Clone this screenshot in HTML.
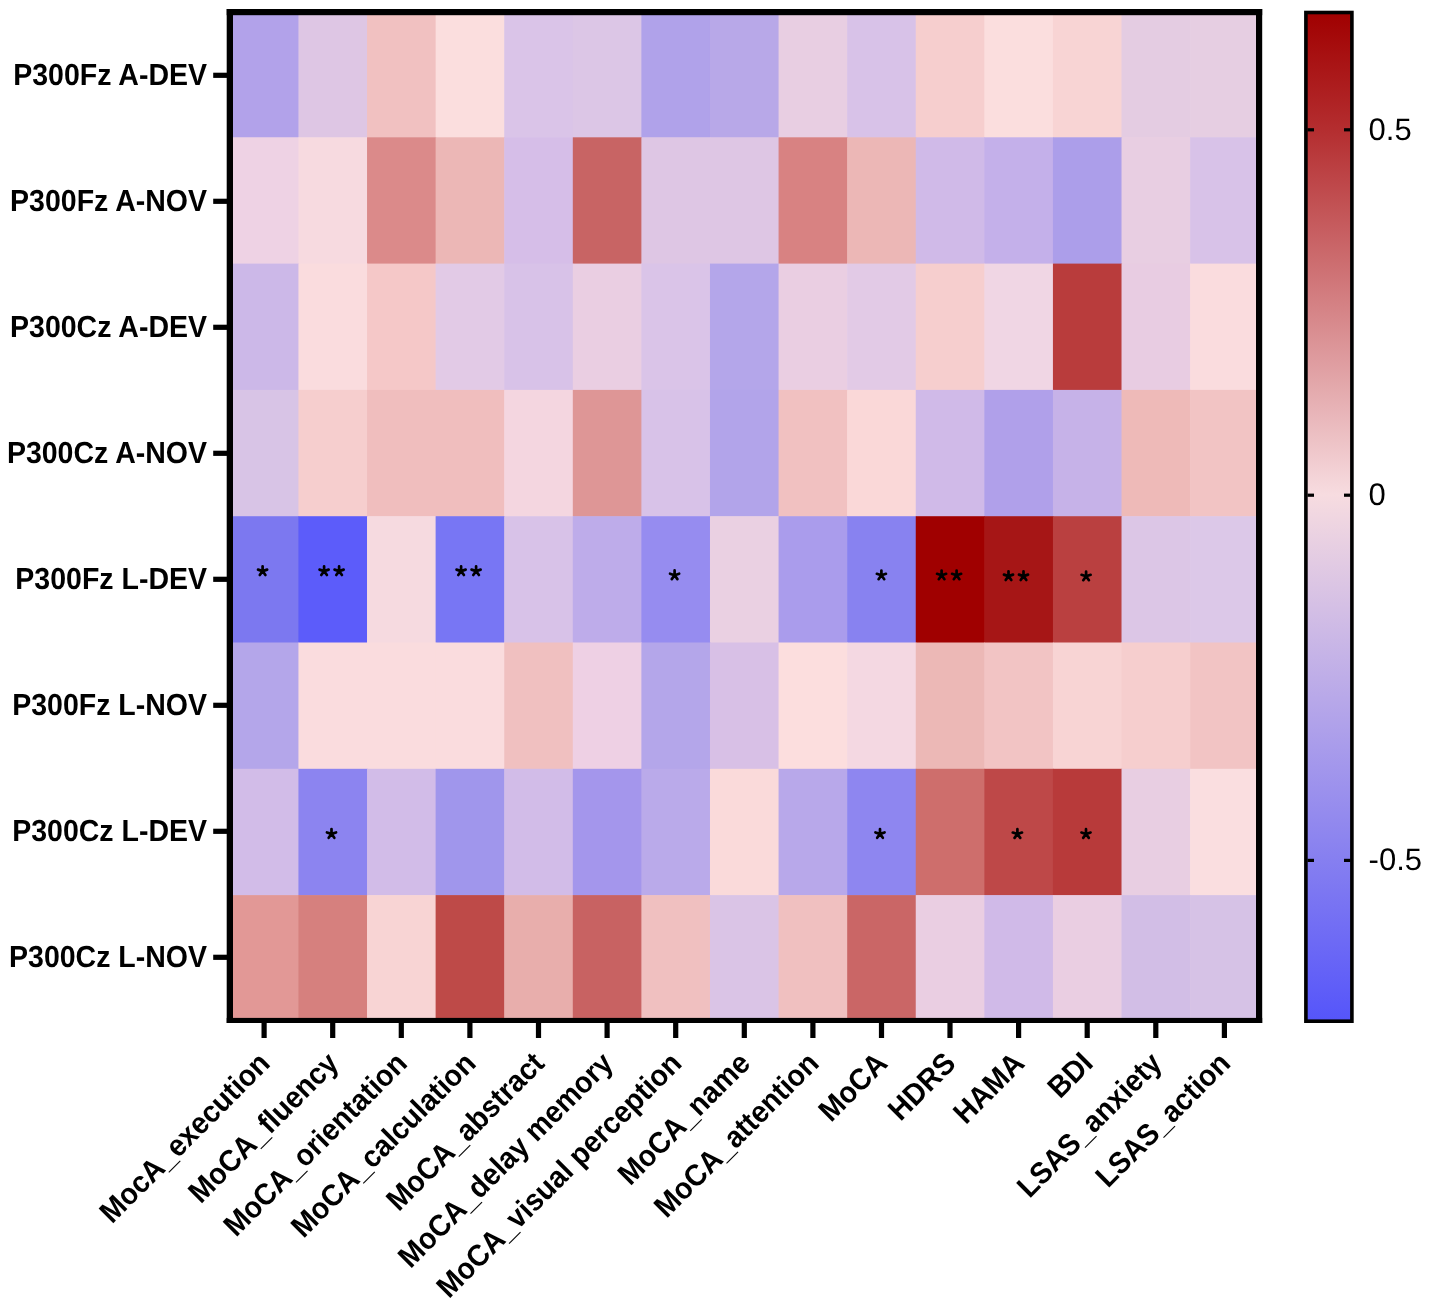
<!DOCTYPE html><html><head><meta charset="utf-8"><style>html,body{margin:0;padding:0;background:#fff;}svg{display:block;will-change:transform;}text{font-family:"Liberation Sans",sans-serif;text-rendering:geometricPrecision;}</style></head><body>
<svg width="1429" height="1307" viewBox="0 0 1429 1307">
<rect x="0" y="0" width="1429" height="1307" fill="#fff"/>
<rect x="229.85" y="11.00" width="69.19" height="126.90" fill="#B2A2EA"/>
<rect x="298.44" y="11.00" width="69.19" height="126.90" fill="#DEC6E4"/>
<rect x="367.03" y="11.00" width="69.19" height="126.90" fill="#F1C1C1"/>
<rect x="435.62" y="11.00" width="69.19" height="126.90" fill="#FBDEDE"/>
<rect x="504.21" y="11.00" width="69.19" height="126.90" fill="#DAC4E8"/>
<rect x="572.80" y="11.00" width="69.19" height="126.90" fill="#DCC6E6"/>
<rect x="641.39" y="11.00" width="69.19" height="126.90" fill="#B0A2EA"/>
<rect x="709.98" y="11.00" width="69.19" height="126.90" fill="#B8A8E8"/>
<rect x="778.57" y="11.00" width="69.19" height="126.90" fill="#E8CEE2"/>
<rect x="847.16" y="11.00" width="69.19" height="126.90" fill="#D8C2E8"/>
<rect x="915.75" y="11.00" width="69.19" height="126.90" fill="#F6CECE"/>
<rect x="984.34" y="11.00" width="69.19" height="126.90" fill="#FBDEDE"/>
<rect x="1052.93" y="11.00" width="69.19" height="126.90" fill="#F8D4D4"/>
<rect x="1121.52" y="11.00" width="69.19" height="126.90" fill="#E4CCE2"/>
<rect x="1190.11" y="11.00" width="69.19" height="126.90" fill="#E6CEE2"/>
<rect x="229.85" y="137.30" width="69.19" height="126.90" fill="#EED2E4"/>
<rect x="298.44" y="137.30" width="69.19" height="126.90" fill="#F7DAE0"/>
<rect x="367.03" y="137.30" width="69.19" height="126.90" fill="#DB8A8A"/>
<rect x="435.62" y="137.30" width="69.19" height="126.90" fill="#ECB7B6"/>
<rect x="504.21" y="137.30" width="69.19" height="126.90" fill="#D6BEE8"/>
<rect x="572.80" y="137.30" width="69.19" height="126.90" fill="#C86464"/>
<rect x="641.39" y="137.30" width="69.19" height="126.90" fill="#DEC6E4"/>
<rect x="709.98" y="137.30" width="69.19" height="126.90" fill="#DEC6E4"/>
<rect x="778.57" y="137.30" width="69.19" height="126.90" fill="#D88282"/>
<rect x="847.16" y="137.30" width="69.19" height="126.90" fill="#ECB7B6"/>
<rect x="915.75" y="137.30" width="69.19" height="126.90" fill="#D0BAE8"/>
<rect x="984.34" y="137.30" width="69.19" height="126.90" fill="#C4B0EA"/>
<rect x="1052.93" y="137.30" width="69.19" height="126.90" fill="#AC9EEA"/>
<rect x="1121.52" y="137.30" width="69.19" height="126.90" fill="#E8CEE2"/>
<rect x="1190.11" y="137.30" width="69.19" height="126.90" fill="#D8C2E8"/>
<rect x="229.85" y="263.60" width="69.19" height="126.90" fill="#CCB8E8"/>
<rect x="298.44" y="263.60" width="69.19" height="126.90" fill="#FADCDE"/>
<rect x="367.03" y="263.60" width="69.19" height="126.90" fill="#F5C8C8"/>
<rect x="435.62" y="263.60" width="69.19" height="126.90" fill="#E2CAE6"/>
<rect x="504.21" y="263.60" width="69.19" height="126.90" fill="#D8C2E8"/>
<rect x="572.80" y="263.60" width="69.19" height="126.90" fill="#EACEE2"/>
<rect x="641.39" y="263.60" width="69.19" height="126.90" fill="#DAC4E8"/>
<rect x="709.98" y="263.60" width="69.19" height="126.90" fill="#B4A6EA"/>
<rect x="778.57" y="263.60" width="69.19" height="126.90" fill="#EACEE2"/>
<rect x="847.16" y="263.60" width="69.19" height="126.90" fill="#E2CAE6"/>
<rect x="915.75" y="263.60" width="69.19" height="126.90" fill="#F6CECE"/>
<rect x="984.34" y="263.60" width="69.19" height="126.90" fill="#F0D6E4"/>
<rect x="1052.93" y="263.60" width="69.19" height="126.90" fill="#B93C3C"/>
<rect x="1121.52" y="263.60" width="69.19" height="126.90" fill="#E8CCE2"/>
<rect x="1190.11" y="263.60" width="69.19" height="126.90" fill="#FADCDE"/>
<rect x="229.85" y="389.90" width="69.19" height="126.90" fill="#D8C4E6"/>
<rect x="298.44" y="389.90" width="69.19" height="126.90" fill="#F6CECE"/>
<rect x="367.03" y="389.90" width="69.19" height="126.90" fill="#F0BEBE"/>
<rect x="435.62" y="389.90" width="69.19" height="126.90" fill="#F0BEBE"/>
<rect x="504.21" y="389.90" width="69.19" height="126.90" fill="#F4D6E0"/>
<rect x="572.80" y="389.90" width="69.19" height="126.90" fill="#DE9696"/>
<rect x="641.39" y="389.90" width="69.19" height="126.90" fill="#D8C2E8"/>
<rect x="709.98" y="389.90" width="69.19" height="126.90" fill="#B2A4EA"/>
<rect x="778.57" y="389.90" width="69.19" height="126.90" fill="#F1C1C1"/>
<rect x="847.16" y="389.90" width="69.19" height="126.90" fill="#FAD8D8"/>
<rect x="915.75" y="389.90" width="69.19" height="126.90" fill="#D0BAE8"/>
<rect x="984.34" y="389.90" width="69.19" height="126.90" fill="#B0A0EA"/>
<rect x="1052.93" y="389.90" width="69.19" height="126.90" fill="#C6B2E8"/>
<rect x="1121.52" y="389.90" width="69.19" height="126.90" fill="#EEBAB8"/>
<rect x="1190.11" y="389.90" width="69.19" height="126.90" fill="#F2C4C4"/>
<rect x="229.85" y="516.20" width="69.19" height="126.90" fill="#7C78F0"/>
<rect x="298.44" y="516.20" width="69.19" height="126.90" fill="#5C5CFA"/>
<rect x="367.03" y="516.20" width="69.19" height="126.90" fill="#F6DAE0"/>
<rect x="435.62" y="516.20" width="69.19" height="126.90" fill="#7876F4"/>
<rect x="504.21" y="516.20" width="69.19" height="126.90" fill="#D8C2E8"/>
<rect x="572.80" y="516.20" width="69.19" height="126.90" fill="#BEACEA"/>
<rect x="641.39" y="516.20" width="69.19" height="126.90" fill="#968CF0"/>
<rect x="709.98" y="516.20" width="69.19" height="126.90" fill="#EAD0E2"/>
<rect x="778.57" y="516.20" width="69.19" height="126.90" fill="#AA9CEC"/>
<rect x="847.16" y="516.20" width="69.19" height="126.90" fill="#8882F0"/>
<rect x="915.75" y="516.20" width="69.19" height="126.90" fill="#A00000"/>
<rect x="984.34" y="516.20" width="69.19" height="126.90" fill="#A61616"/>
<rect x="1052.93" y="516.20" width="69.19" height="126.90" fill="#BA4040"/>
<rect x="1121.52" y="516.20" width="69.19" height="126.90" fill="#DCC6E6"/>
<rect x="1190.11" y="516.20" width="69.19" height="126.90" fill="#DCC8E8"/>
<rect x="229.85" y="642.50" width="69.19" height="126.90" fill="#B4A6EA"/>
<rect x="298.44" y="642.50" width="69.19" height="126.90" fill="#FADCDE"/>
<rect x="367.03" y="642.50" width="69.19" height="126.90" fill="#FADCDE"/>
<rect x="435.62" y="642.50" width="69.19" height="126.90" fill="#FADCDE"/>
<rect x="504.21" y="642.50" width="69.19" height="126.90" fill="#F0C0C0"/>
<rect x="572.80" y="642.50" width="69.19" height="126.90" fill="#EED0E4"/>
<rect x="641.39" y="642.50" width="69.19" height="126.90" fill="#B4A6EA"/>
<rect x="709.98" y="642.50" width="69.19" height="126.90" fill="#D8C0E6"/>
<rect x="778.57" y="642.50" width="69.19" height="126.90" fill="#FCDEDE"/>
<rect x="847.16" y="642.50" width="69.19" height="126.90" fill="#F4D8E2"/>
<rect x="915.75" y="642.50" width="69.19" height="126.90" fill="#ECB8B6"/>
<rect x="984.34" y="642.50" width="69.19" height="126.90" fill="#F2C4C4"/>
<rect x="1052.93" y="642.50" width="69.19" height="126.90" fill="#F8D4D4"/>
<rect x="1121.52" y="642.50" width="69.19" height="126.90" fill="#F6CECE"/>
<rect x="1190.11" y="642.50" width="69.19" height="126.90" fill="#F2C4C4"/>
<rect x="229.85" y="768.80" width="69.19" height="126.90" fill="#D2BCE8"/>
<rect x="298.44" y="768.80" width="69.19" height="126.90" fill="#8C84F0"/>
<rect x="367.03" y="768.80" width="69.19" height="126.90" fill="#D2BCE8"/>
<rect x="435.62" y="768.80" width="69.19" height="126.90" fill="#A096EC"/>
<rect x="504.21" y="768.80" width="69.19" height="126.90" fill="#D2BCE8"/>
<rect x="572.80" y="768.80" width="69.19" height="126.90" fill="#A496EC"/>
<rect x="641.39" y="768.80" width="69.19" height="126.90" fill="#BAAAEA"/>
<rect x="709.98" y="768.80" width="69.19" height="126.90" fill="#FADADA"/>
<rect x="778.57" y="768.80" width="69.19" height="126.90" fill="#B8A8EA"/>
<rect x="847.16" y="768.80" width="69.19" height="126.90" fill="#8E86F0"/>
<rect x="915.75" y="768.80" width="69.19" height="126.90" fill="#CE6E6C"/>
<rect x="984.34" y="768.80" width="69.19" height="126.90" fill="#BE4848"/>
<rect x="1052.93" y="768.80" width="69.19" height="126.90" fill="#B83A3A"/>
<rect x="1121.52" y="768.80" width="69.19" height="126.90" fill="#E8CEE2"/>
<rect x="1190.11" y="768.80" width="69.19" height="126.90" fill="#FADEE0"/>
<rect x="229.85" y="895.10" width="69.19" height="126.90" fill="#E29896"/>
<rect x="298.44" y="895.10" width="69.19" height="126.90" fill="#D6807E"/>
<rect x="367.03" y="895.10" width="69.19" height="126.90" fill="#F8D4D4"/>
<rect x="435.62" y="895.10" width="69.19" height="126.90" fill="#BE4A48"/>
<rect x="504.21" y="895.10" width="69.19" height="126.90" fill="#E8AEAC"/>
<rect x="572.80" y="895.10" width="69.19" height="126.90" fill="#C86262"/>
<rect x="641.39" y="895.10" width="69.19" height="126.90" fill="#F0C0C0"/>
<rect x="709.98" y="895.10" width="69.19" height="126.90" fill="#DAC4E6"/>
<rect x="778.57" y="895.10" width="69.19" height="126.90" fill="#F0C0C0"/>
<rect x="847.16" y="895.10" width="69.19" height="126.90" fill="#CA6666"/>
<rect x="915.75" y="895.10" width="69.19" height="126.90" fill="#EACEE2"/>
<rect x="984.34" y="895.10" width="69.19" height="126.90" fill="#D0BAE8"/>
<rect x="1052.93" y="895.10" width="69.19" height="126.90" fill="#EACEE2"/>
<rect x="1121.52" y="895.10" width="69.19" height="126.90" fill="#D2BEE6"/>
<rect x="1190.11" y="895.10" width="69.19" height="126.90" fill="#D6C2E6"/>
<defs><path id="st" d="M0,0L0.000,-4.800M0,0L4.565,-1.483M0,0L2.821,3.883M0,0L-2.821,3.883M0,0L-4.565,-1.483" stroke="#000" stroke-width="2.7" stroke-linecap="round" stroke-linejoin="round" fill="none"/></defs>
<use href="#st" x="262.6" y="571.1"/>
<use href="#st" x="324.1" y="571.1"/><use href="#st" x="339.1" y="571.1"/>
<use href="#st" x="461.1" y="571.1"/><use href="#st" x="476.1" y="571.1"/>
<use href="#st" x="674.6" y="575.2"/>
<use href="#st" x="881.4" y="575.3"/>
<use href="#st" x="941.6" y="575.3"/><use href="#st" x="956.6" y="575.3"/>
<use href="#st" x="1008.5" y="576.1"/><use href="#st" x="1023.5" y="576.1"/>
<use href="#st" x="1086.1" y="576.3"/>
<use href="#st" x="331.5" y="833.9"/>
<use href="#st" x="880.0" y="833.9"/>
<use href="#st" x="1017.4" y="834.0"/>
<use href="#st" x="1086.0" y="834.0"/>
<rect x="226.7" y="9.0" width="1035.5" height="6.2" fill="#000"/>
<rect x="226.7" y="1017.9" width="1035.5" height="5.1" fill="#000"/>
<rect x="226.7" y="9.0" width="6.3" height="1014" fill="#000"/>
<rect x="1256.0" y="9.0" width="6.2" height="1014" fill="#000"/>
<rect x="213.2" y="72.7" width="14" height="5.2" fill="#000"/>
<text transform="translate(207.0,84.8) scale(1,1.065)" font-size="28.5" font-weight="bold" text-anchor="end" fill="#000">P300Fz A-DEV</text>
<rect x="213.2" y="198.7" width="14" height="5.2" fill="#000"/>
<text transform="translate(207.0,210.8) scale(1,1.065)" font-size="28.5" font-weight="bold" text-anchor="end" fill="#000">P300Fz A-NOV</text>
<rect x="213.2" y="324.7" width="14" height="5.2" fill="#000"/>
<text transform="translate(207.0,336.8) scale(1,1.065)" font-size="28.5" font-weight="bold" text-anchor="end" fill="#000">P300Cz A-DEV</text>
<rect x="213.2" y="450.7" width="14" height="5.2" fill="#000"/>
<text transform="translate(207.0,462.8) scale(1,1.065)" font-size="28.5" font-weight="bold" text-anchor="end" fill="#000">P300Cz A-NOV</text>
<rect x="213.2" y="576.7" width="14" height="5.2" fill="#000"/>
<text transform="translate(207.0,588.8) scale(1,1.065)" font-size="28.5" font-weight="bold" text-anchor="end" fill="#000">P300Fz L-DEV</text>
<rect x="213.2" y="702.7" width="14" height="5.2" fill="#000"/>
<text transform="translate(207.0,714.8) scale(1,1.065)" font-size="28.5" font-weight="bold" text-anchor="end" fill="#000">P300Fz L-NOV</text>
<rect x="213.2" y="828.7" width="14" height="5.2" fill="#000"/>
<text transform="translate(207.0,840.8) scale(1,1.065)" font-size="28.5" font-weight="bold" text-anchor="end" fill="#000">P300Cz L-DEV</text>
<rect x="213.2" y="954.7" width="14" height="5.2" fill="#000"/>
<text transform="translate(207.0,966.8) scale(1,1.065)" font-size="28.5" font-weight="bold" text-anchor="end" fill="#000">P300Cz L-NOV</text>
<rect x="261.5" y="1022" width="5.2" height="16" fill="#000"/>
<text transform="translate(271.6,1065.0) rotate(-45) scale(1,1.065)" font-size="28.4" font-weight="bold" text-anchor="end" fill="#000">MocA_execution</text>
<rect x="330.1" y="1022" width="5.2" height="16" fill="#000"/>
<text transform="translate(340.2,1065.0) rotate(-45) scale(1,1.065)" font-size="28.4" font-weight="bold" text-anchor="end" fill="#000">MoCA_fluency</text>
<rect x="398.7" y="1022" width="5.2" height="16" fill="#000"/>
<text transform="translate(408.8,1065.0) rotate(-45) scale(1,1.065)" font-size="28.4" font-weight="bold" text-anchor="end" fill="#000">MoCA_orientation</text>
<rect x="467.3" y="1022" width="5.2" height="16" fill="#000"/>
<text transform="translate(477.4,1065.0) rotate(-45) scale(1,1.065)" font-size="28.4" font-weight="bold" text-anchor="end" fill="#000">MoCA_calculation</text>
<rect x="535.9" y="1022" width="5.2" height="16" fill="#000"/>
<text transform="translate(546.0,1065.0) rotate(-45) scale(1,1.065)" font-size="28.4" font-weight="bold" text-anchor="end" fill="#000">MoCA_abstract</text>
<rect x="604.5" y="1022" width="5.2" height="16" fill="#000"/>
<text transform="translate(614.6,1065.0) rotate(-45) scale(1,1.065)" font-size="28.4" font-weight="bold" text-anchor="end" fill="#000">MoCA_delay memory</text>
<rect x="673.1" y="1022" width="5.2" height="16" fill="#000"/>
<text transform="translate(683.2,1065.0) rotate(-45) scale(1,1.065)" font-size="28.4" font-weight="bold" text-anchor="end" fill="#000">MoCA_visual perception</text>
<rect x="741.7" y="1022" width="5.2" height="16" fill="#000"/>
<text transform="translate(751.8,1065.0) rotate(-45) scale(1,1.065)" font-size="28.4" font-weight="bold" text-anchor="end" fill="#000">MoCA_name</text>
<rect x="810.3" y="1022" width="5.2" height="16" fill="#000"/>
<text transform="translate(820.4,1065.0) rotate(-45) scale(1,1.065)" font-size="28.4" font-weight="bold" text-anchor="end" fill="#000">MoCA_attention</text>
<rect x="878.9" y="1022" width="5.2" height="16" fill="#000"/>
<text transform="translate(889.0,1065.0) rotate(-45) scale(1,1.065)" font-size="28.4" font-weight="bold" text-anchor="end" fill="#000">MoCA</text>
<rect x="947.4" y="1022" width="5.2" height="16" fill="#000"/>
<text transform="translate(957.5,1065.0) rotate(-45) scale(1,1.065)" font-size="28.4" font-weight="bold" text-anchor="end" fill="#000">HDRS</text>
<rect x="1016.0" y="1022" width="5.2" height="16" fill="#000"/>
<text transform="translate(1026.1,1065.0) rotate(-45) scale(1,1.065)" font-size="28.4" font-weight="bold" text-anchor="end" fill="#000">HAMA</text>
<rect x="1084.6" y="1022" width="5.2" height="16" fill="#000"/>
<text transform="translate(1094.7,1065.0) rotate(-45) scale(1,1.065)" font-size="28.4" font-weight="bold" text-anchor="end" fill="#000">BDI</text>
<rect x="1153.2" y="1022" width="5.2" height="16" fill="#000"/>
<text transform="translate(1163.3,1065.0) rotate(-45) scale(1,1.065)" font-size="28.4" font-weight="bold" text-anchor="end" fill="#000">LSAS_anxiety</text>
<rect x="1221.8" y="1022" width="5.2" height="16" fill="#000"/>
<text transform="translate(1231.9,1065.0) rotate(-45) scale(1,1.065)" font-size="28.4" font-weight="bold" text-anchor="end" fill="#000">LSAS_action</text>
<defs><linearGradient id="cb" x1="0" y1="0" x2="0" y2="1"><stop offset="0" stop-color="#A00000"/><stop offset="0.115" stop-color="#B42D2F"/><stop offset="0.478" stop-color="#F7DCE0"/><stop offset="0.84" stop-color="#867FF0"/><stop offset="1" stop-color="#5555FA"/></linearGradient></defs>
<rect x="1305.9" y="12.5" width="46" height="1008.7" fill="url(#cb)" stroke="#000" stroke-width="3.6"/>
<rect x="1307.5" y="128.2" width="6.5" height="3.2" fill="#000"/>
<rect x="1344" y="128.2" width="6.5" height="3.2" fill="#000"/>
<text transform="translate(1368.6,139.6) scale(1,1.0)" font-size="31" fill="#000">0.5</text>
<rect x="1307.5" y="493.6" width="6.5" height="3.2" fill="#000"/>
<rect x="1344" y="493.6" width="6.5" height="3.2" fill="#000"/>
<text transform="translate(1368.6,505.0) scale(1,1.0)" font-size="31" fill="#000">0</text>
<rect x="1307.5" y="858.8" width="6.5" height="3.2" fill="#000"/>
<rect x="1344" y="858.8" width="6.5" height="3.2" fill="#000"/>
<text transform="translate(1368.6,870.2) scale(1,1.0)" font-size="31" fill="#000">-0.5</text>
</svg></body></html>
